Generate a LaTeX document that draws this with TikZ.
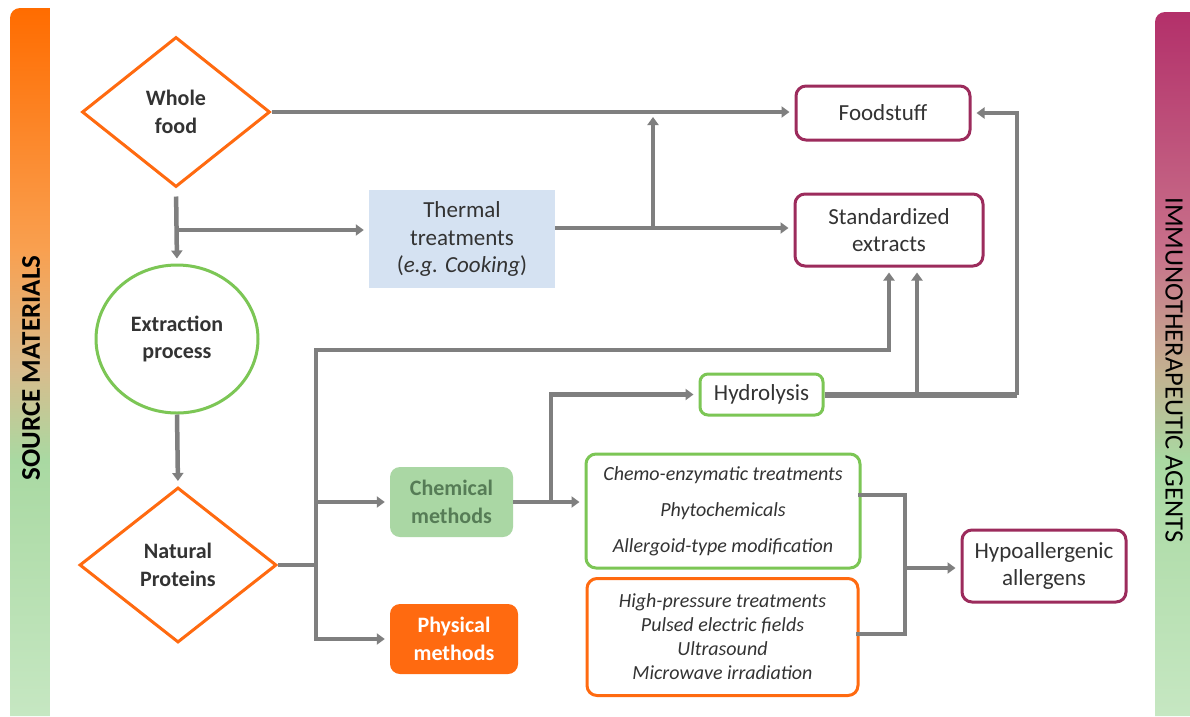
\documentclass[tikz,border=0pt]{standalone}
\usepackage{fontspec}
\setmainfont{Carlito}
\usetikzlibrary{shapes.geometric,arrows.meta,calc}
\definecolor{org}{HTML}{FF6A10}
\definecolor{grn}{HTML}{7CC655}
\definecolor{mag}{HTML}{9C2B5C}
\definecolor{cgray}{HTML}{7F7F7F}
\definecolor{txt}{HTML}{333333}
\definecolor{blu}{HTML}{D5E2F2}
\definecolor{lgrn}{HTML}{AAD7A4}
\definecolor{chemtxt}{HTML}{567C56}
\definecolor{barO}{HTML}{FF6C00}
\definecolor{barO2}{HTML}{F9A050}
\definecolor{barT}{HTML}{D8BC8C}
\definecolor{barG}{HTML}{A9D9A2}
\definecolor{barL}{HTML}{C6E7C2}
\definecolor{barM}{HTML}{B3306A}
\definecolor{barM2}{HTML}{C8708A}
\definecolor{barT2}{HTML}{C4B090}
\begin{document}
\begin{tikzpicture}[x=1pt,y=-1pt,
  wire/.style={draw=cgray, line width=4.5pt},
  conn/.style={draw=cgray, line width=4.5pt, -{Triangle[length=8pt,width=11pt]}, shorten >=5pt},
  base/.style={text=txt, align=center, font=\fontsize{23}{27.5}\selectfont},
  boldtxt/.style={font=\bfseries\fontsize{22}{27.5}\selectfont},
  outbox/.style={base, draw=mag, line width=3pt, rounded corners=10pt, fill=white, inner sep=0pt},
  diam/.style={base, diamond, draw=org, line width=3pt, inner sep=0pt, boldtxt},
  listtxt/.style={base, font=\itshape\fontsize{20}{24}\selectfont}
]
\useasboundingbox (0,0) rectangle (1190,716);
\fill[white] (0,0) rectangle (1190,716);

% left bar
\begin{scope}
\clip (10,716) -- (10,18) arc (180:270:10) -- (50,8) -- (50,716) -- cycle;
\shade[top color=barO, bottom color=barO2] (10,8) rectangle (50,250);
\shade[top color=barO2, bottom color=barT] (10,249.5) rectangle (50,370);
\shade[top color=barT, bottom color=barG] (10,369.5) rectangle (50,460);
\shade[top color=barG, bottom color=barL] (10,459.5) rectangle (50,716);
\end{scope}
\node[rotate=90, font=\bfseries\fontsize{27}{27}\selectfont, text=black] (srcbar) at (31,368) {SOURCE MATERIALS};

% right bar
\begin{scope}
\clip (1155,716) -- (1155,22) arc (180:270:10) -- (1190,12) -- (1190,716) -- cycle;
\shade[top color=barM, bottom color=barM2] (1155,12) rectangle (1190,250);
\shade[top color=barM2, bottom color=barT2] (1155,249.5) rectangle (1190,370);
\shade[top color=barT2, bottom color=barG] (1155,369.5) rectangle (1190,460);
\shade[top color=barG, bottom color=barL] (1155,459.5) rectangle (1190,716);
\end{scope}
\node[rotate=-90, font=\fontsize{26.5}{26.5}\selectfont, text=black] (immbar) at (1174,370) {IMMUNOTHERAPEUTIC AGENTS};

% nodes
\node[diam, minimum width=188pt, minimum height=150pt] (wf) at (176,112) {Whole\\food};
\node[base, ellipse, draw=grn, line width=3pt, minimum width=162pt, minimum height=148pt, inner sep=0pt, boldtxt] (ext) at (177,339) {Extraction\\process};
\node[diam, minimum width=197pt, minimum height=155pt] (np) at (178,565) {Natural\\Proteins};
\node[base, fill=blu, minimum width=186pt, minimum height=98pt, inner sep=0pt] (therm) at (462,239) {Thermal\\treatments\\(\textit{e.g. Cooking})};
\node[outbox, minimum width=174pt, minimum height=54pt] (food) at (883,113) {Foodstuff};
\node[outbox, minimum width=188pt, minimum height=72pt] (std) at (889,230) {Standardized\\extracts};
\node[outbox, draw=grn, minimum width=123pt, minimum height=41pt, rounded corners=8pt] (hyd) at (761.5,394.5) {Hydrolysis};
\node[base, fill=lgrn, rounded corners=10pt, minimum width=123pt, minimum height=70pt, inner sep=0pt, text=chemtxt, boldtxt] (chem) at (451.5,502) {Chemical\\methods};
\node[base, fill=org, rounded corners=10pt, minimum width=128pt, minimum height=70pt, inner sep=0pt, text=white, boldtxt] (phys) at (454,639) {Physical\\methods};
\node[outbox, draw=grn, minimum width=274pt, minimum height=114pt, listtxt, font=\itshape\fontsize{20}{36}\selectfont] (cbox) at (723,511) {Chemo-enzymatic treatments\\Phytochemicals\\Allergoid-type modification};
\node[outbox, draw=org, minimum width=271pt, minimum height=117pt, listtxt] (pbox) at (722.5,637) {High-pressure treatments\\Pulsed electric fields\\Ultrasound\\Microwave irradiation};
\node[outbox, minimum width=164pt, minimum height=72pt] (hypo) at (1044,566) {Hypoallergenic\\allergens};

% connectors: whole food
\draw[conn] (wf.east) -- (wf.east -| food.west);
\draw[conn, shorten <=8pt] (wf.south) -- (ext.north);
\coordinate (w1) at (176,230);
\draw[conn] (w1) -- (therm.west |- w1);
\coordinate (t1) at (555,228);
\draw[conn] (t1) -- (std.west |- t1);
\coordinate (t2) at (653,228);
\draw[conn] (t2) -- (653,112);

% extraction to natural proteins
\draw[conn] (ext.south) -- (np.north);

% natural proteins spine
\coordinate (s0) at (316,565);
\coordinate (s1) at (316,350);
\draw[wire] (np.east) -- (s0);
\draw[wire, line cap=rect] (s1) -- (phys.west -| s1);
\draw[conn] (s1) -| (std.south);
\draw[conn] (chem.west -| s1) -- (chem.west);
\draw[conn] (phys.west -| s1) -- (phys.west);

% chemical methods
\draw[conn] (chem.east) -- (chem.east -| cbox.west);
\coordinate (b1) at (551,502);
\draw[conn] (b1) |- (hyd.west);

% hydrolysis outputs
\coordinate (h1) at (917,394.5);
\coordinate (h2) at (1017,394.5);
\draw[wire, line width=6pt] (hyd.east) -- (h2);
\draw[conn] (h1) -- (std.south -| h1);
\draw[conn] (h2) |- (food.east);

% merge to hypoallergenic
\coordinate (m1) at (860,495);
\coordinate (m2) at (905,495);
\coordinate (m3) at (905,634);
\coordinate (m4) at (858,634);
\coordinate (m5) at (905,568);
\draw[wire, line cap=rect] (m1) -- (m2) -- (m3) -- (m4);
\draw[conn] (m5) -- (hypo.west |- m5);
\end{tikzpicture}
\end{document}
